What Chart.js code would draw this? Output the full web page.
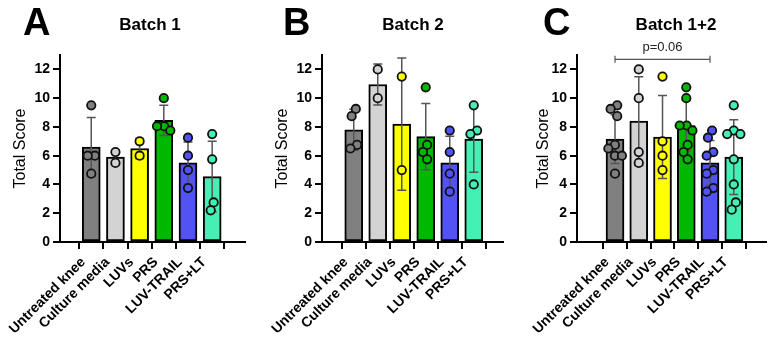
<!DOCTYPE html>
<html><head><meta charset="utf-8">
<script src="https://cdn.jsdelivr.net/npm/chart.js@4/dist/chart.umd.min.js"></script>
<style>
html,body{margin:0;padding:0;background:#fff;width:772px;height:339px;overflow:hidden}
canvas{position:absolute;top:0}
</style></head><body>
<canvas id="cA" width="255" height="339" style="left:0px"></canvas>
<canvas id="cB" width="255" height="339" style="left:255px"></canvas>
<canvas id="cC" width="262" height="339" style="left:510px"></canvas>
<script>
// ---------- data ----------
const categories = ['Untreated knee','Culture media','LUVs','PRS','LUV-TRAIL','PRS+LT'];
const barColors = ['#808080','#d3d3d3','#ffff00','#00b800','#5353f5','#44f0b4'];
const yTicks = [0,2,4,6,8,10,12];

const batch1Means = [6.6, 5.9, 6.5, 8.45, 5.5, 4.55];
const batch1SD    = [2.05, 0.5, 0.7, 1.05, 1.45, 2.45];
const batch1Points = [[9.5,6,6,4.75],[6.25,5.5],[7,6],[10,8.05,8.05,7.75],[7.25,6,5,3.75],[7.5,5.75,2.75,2.2]];

const batch2Means = [7.8, 10.95, 8.2, 7.33, 5.5, 7.15];
const batch2SD    = [1.42, 1.42, 4.6, 2.3, 1.85, 2.3];
const batch2Points = [[9.25,8.75,6.75,6.5],[12,10],[11.5,5],[10.75,6.75,6.25,5.75],[7.75,6.25,4.75,3.5],[9.5,7.75,7.5,4]];

const batch12Means = [7.15, 8.4, 7.3, 8.1, 5.5, 5.9];
const batch12SD    = [1.7, 3.08, 2.88, 1.75, 1.55, 2.6];
const batch12Points = [[9.5,9.25,8.75,6.75,6.5,6,6,4.75],[12,10,6.25,5.5],[11.5,7,6,5],
  [10.75,10,8.1,8.1,7.75,6.75,6.25,5.75],[7.75,7.25,6.25,6,5,4.75,3.75,3.5],[9.5,7.75,7.5,7.5,5.75,4,2.75,2.25]];

const pValueText = 'p=0.06';
const pValueFrom = 0, pValueTo = 4, pValueY = 12.7;

// ---------- helpers ----------
const FONT = "'Liberation Sans', Arial, sans-serif";

function swarm(values, pxPerX, pxPerY, d){
  // place points (descending) avoiding overlap, then recentre each overlap group
  const order = values.map((v,i)=>i).sort((a,b)=>values[b]-values[a]);
  const placed = [];
  for (const i of order){
    const v = values[i];
    const near = placed.filter(p => Math.abs(p.v - v)*pxPerY < d);
    let dx = 0;
    for (let k=0;k<200;k++){
      const cand = (k===0)?0:((k%2===1)? -Math.ceil(k/2)*0.5 : Math.ceil(k/2)*0.5);
      const ok = near.every(p=>{
        const dy = (p.v - v)*pxPerY;
        const w = Math.sqrt(d*d - dy*dy);
        return Math.abs(cand - p.dx) >= w - 0.01;
      });
      if (ok){ dx = cand; break; }
    }
    placed.push({i, v, dx});
  }
  const groups = [];
  for (const p of placed){
    const g = groups.find(g => g.some(q => Math.abs(q.v - p.v)*pxPerY < d));
    if (g) g.push(p); else groups.push([p]);
  }
  for (const g of groups){
    const m = g.reduce((s,p)=>s+p.dx,0)/g.length;
    g.forEach(p=>p.dx -= m);
  }
  const out = new Array(values.length);
  placed.forEach(p=> out[p.i] = p.dx / pxPerX);
  return out;
}

const errorBarPlugin = {
  id: 'errbars',
  afterDatasetDraw(chart, args){
    if (args.meta.type !== 'bar') return;
    const cfg = chart.options.plugins.errbars;
    const ctx = chart.ctx, xs = chart.scales.x, ys = chart.scales.y;
    ctx.save();
    ctx.strokeStyle = '#555';
    ctx.lineWidth = 1.5;
    cfg.means.forEach((m,i)=>{
      const x = xs.getPixelForValue(i);
      const t = ys.getPixelForValue(m + cfg.sd[i]);
      const b = ys.getPixelForValue(Math.max(0, m - cfg.sd[i]));
      ctx.beginPath();
      ctx.moveTo(x, t); ctx.lineTo(x, b);
      ctx.moveTo(x-4.5, t); ctx.lineTo(x+4.5, t);
      ctx.moveTo(x-4.5, b); ctx.lineTo(x+4.5, b);
      ctx.stroke();
    });
    ctx.restore();
  }
};

const decorPlugin = {
  id: 'decor',
  afterDraw(chart){
    const cfg = chart.options.plugins.decor;
    const ctx = chart.ctx;
    ctx.save();
    ctx.fillStyle = '#000';
    ctx.font = `bold 38px ${FONT}`;
    ctx.textAlign = 'left'; ctx.textBaseline = 'alphabetic';
    ctx.fillText(cfg.letter, cfg.letterX, 35);
    ctx.font = `bold 17px ${FONT}`;
    ctx.textAlign = 'center'; ctx.textBaseline = 'middle';
    ctx.fillText(cfg.title, cfg.titleX, 25);
    if (cfg.pvalue){
      const xs = chart.scales.x, ys = chart.scales.y;
      const x1 = xs.getPixelForValue(pValueFrom), x2 = xs.getPixelForValue(pValueTo);
      const y = ys.getPixelForValue(pValueY);
      ctx.strokeStyle = '#555'; ctx.lineWidth = 1.2;
      ctx.beginPath();
      ctx.moveTo(x1, y); ctx.lineTo(x2, y);
      ctx.moveTo(x1, y-3.5); ctx.lineTo(x1, y+3.5);
      ctx.moveTo(x2, y-3.5); ctx.lineTo(x2, y+3.5);
      ctx.stroke();
      ctx.fillStyle = '#222';
      ctx.font = `13px ${FONT}`;
      ctx.fillText(pValueText, (x1+x2)/2, y - 12);
    }
    ctx.restore();
  }
};

function makePanel(id, p){
  const areaW = p.canvasW - p.axisW - p.padRight;
  const pxPerX = areaW / (p.xmax - p.xmin);
  const pxPerY = (242 - 55) / 13;
  const pts = [], ptColors = [];
  p.points.forEach((vals, ci)=>{
    const offs = swarm(vals, pxPerX, pxPerY, 8.5);
    vals.forEach((v, k)=>{ pts.push({x: ci + offs[k], y: v}); ptColors.push(barColors[ci]); });
  });
  new Chart(document.getElementById(id), {
    type: 'bar',
    data: {
      datasets: [
        { type:'bar', order:2, data: p.means.map((m,i)=>({x:i, y:m})),
          backgroundColor: barColors, borderColor:'#000', borderWidth:2, borderSkipped:false,
          barThickness:18 },
        { type:'scatter', order:1, data: pts, pointRadius:4.2, pointBorderWidth:1.8,
          pointBorderColor:'#111', pointBackgroundColor: ptColors, showLine:false }
      ]
    },
    options: {
      responsive:false, animation:false, devicePixelRatio:1,
      layout: { padding: { left:0, right:p.padRight, top:55, bottom:0 } },
      plugins: {
        legend:{display:false}, tooltip:{enabled:false},
        errbars: { means:p.means, sd:p.sd },
        decor: { letter:p.letter, letterX:p.letterX, title:p.title, titleX:p.titleX, pvalue:p.pvalue }
      },
      scales: {
        x: { type:'linear', min:p.xmin, max:p.xmax,
          afterBuildTicks: s => { s.ticks = categories.map((c,i)=>({value:i})); },
          afterFit: s => { s.height = 339 - 242; },
          ticks: { autoSkip:false, minRotation:45, maxRotation:45, padding:5, labelOffset:-8,
            color:'#000', font:{family:FONT, size:14, weight:'bold'},
            callback: v => categories[v] },
          grid: { drawOnChartArea:false, drawTicks:true, tickLength:7, color:'#000', lineWidth:2 },
          border: { display:true, color:'#000', width:2 }
        },
        y: { type:'linear', min:0, max:13,
          afterBuildTicks: s => { s.ticks = yTicks.map(v=>({value:v})); },
          afterFit: s => { s.width = p.axisW; },
          ticks: { padding:3, color:'#000', font:{family:FONT, size:14, weight:'bold'} },
          grid: { drawOnChartArea:false, drawTicks:true, tickLength:7, color:'#000', lineWidth:2 },
          border: { display:true, color:'#000', width:2 },
          title: { display:true, text:'Total Score', color:'#000',
            font:{family:FONT, size:16}, padding:{top:p.titlePad, bottom:0} }
        }
      }
    },
    plugins: [errorBarPlugin, decorPlugin]
  });
}

makePanel('cA', { canvasW:255, axisW:60, padRight:10, xmin:-0.655, xmax:5.72,
  means:batch1Means, sd:batch1SD, points:batch1Points,
  letter:'A', letterX:23, title:'Batch 1', titleX:150, titlePad:11.4, pvalue:false });
makePanel('cB', { canvasW:255, axisW:67, padRight:7, xmin:-0.694, xmax:5.59,
  means:batch2Means, sd:batch2SD, points:batch2Points,
  letter:'B', letterX:28, title:'Batch 2', titleX:158, titlePad:18.4, pvalue:false });
makePanel('cC', { canvasW:262, axisW:67, padRight:4, xmin:-0.9375, xmax:5.694,
  means:batch12Means, sd:batch12SD, points:batch12Points,
  letter:'C', letterX:33, title:'Batch 1+2', titleX:166, titlePad:24.4, pvalue:true });
</script>
</body></html>
